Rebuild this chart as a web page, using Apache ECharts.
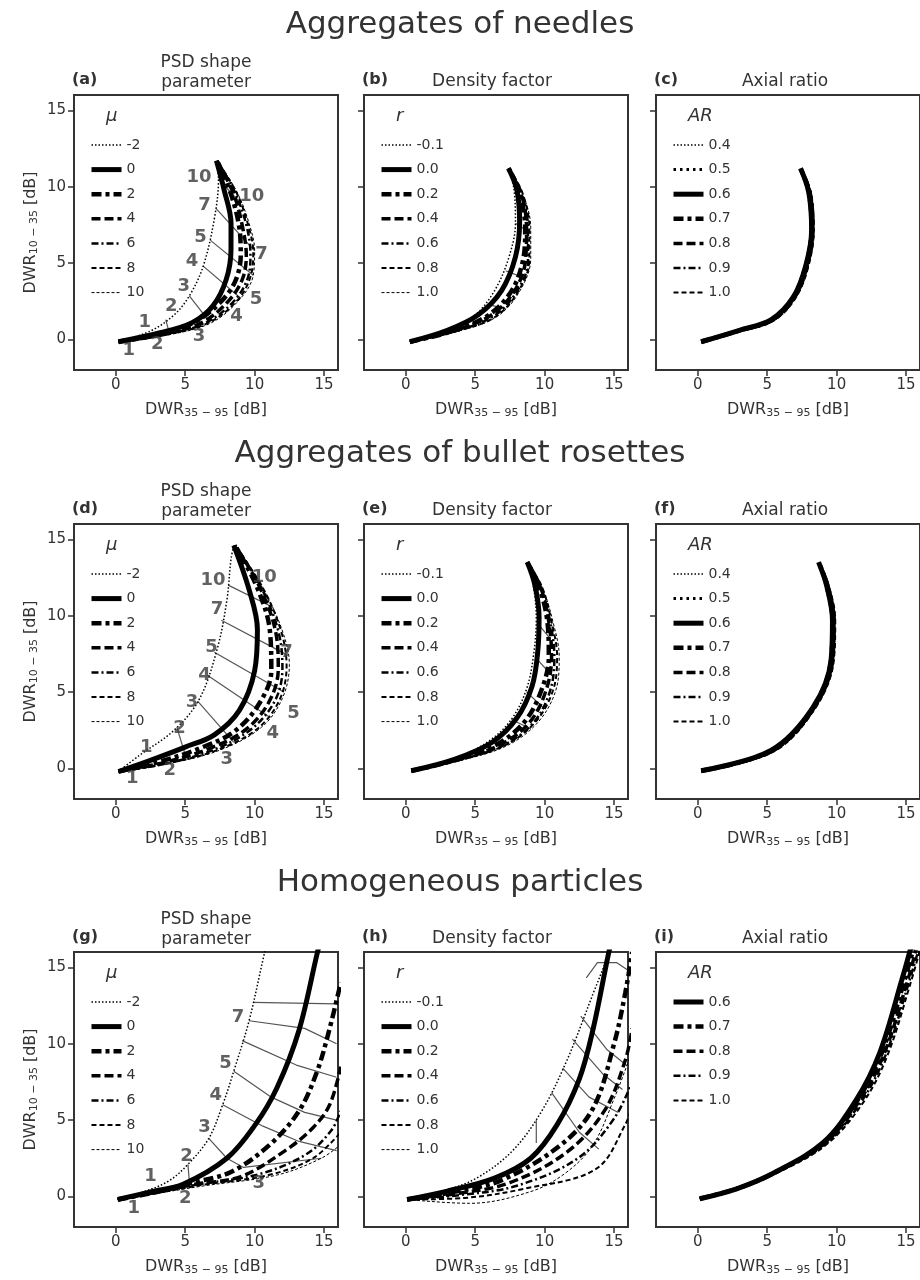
<!DOCTYPE html>
<html>
<head>
<meta charset="utf-8">
<script src="https://cdn.jsdelivr.net/npm/echarts@6/dist/echarts.min.js"></script>
<style>html,body{margin:0;background:#fff}#main{width:920px;height:1280px}</style>
</head>
<body>
<div id="main"></div>
<script>
// ---- data ----
var muNames = ['-2', '0', '2', '4', '6', '8', '10'];
var rNames = ['-0.1', '0.0', '0.2', '0.4', '0.6', '0.8', '1.0'];
var arNames = ['0.4', '0.5', '0.6', '0.7', '0.8', '0.9', '1.0'];
var arNamesHomog = ['0.6', '0.7', '0.8', '0.9', '1.0'];

// (a) needles, PSD shape
var needlesMu = [
    [[0.2,-0.15],[2.5,0.55],[4.2,1.6],[5.3,2.85],[6.3,4.8],[7.1,7.9],[7.4,10.5],[7.25,11.7]],
    [[0.2,-0.15],[3.2,0.44],[5.5,1.1],[7.0,2.2],[7.95,3.9],[8.3,5.9],[8.3,7.6],[7.8,9.8],[7.25,11.7]],
    [[0.2,-0.15],[3.5,0.4],[5.8,1.2],[7.5,2.4],[8.6,3.8],[9.0,5.5],[8.9,7.3],[8.3,9.5],[7.3,11.7]],
    [[0.2,-0.15],[3.5,0.35],[6.2,1.1],[8.0,2.4],[9.1,3.9],[9.4,5.5],[9.1,7.5],[8.5,9.5],[7.3,11.7]],
    [[0.2,-0.15],[3.6,0.33],[6.5,1.1],[8.5,2.5],[9.5,4.0],[9.7,5.6],[9.4,7.5],[8.6,9.6],[7.3,11.7]],
    [[0.2,-0.15],[3.7,0.32],[6.7,1.1],[8.8,2.6],[9.7,4.1],[9.9,5.7],[9.5,7.6],[8.7,9.6],[7.3,11.7]],
    [[0.2,-0.15],[3.8,0.3],[6.9,1.1],[9.0,2.7],[9.9,4.2],[10.0,5.8],[9.6,7.6],[8.7,9.7],[7.3,11.7]]
];
var needlesLinks = [
    [[3.6,1.3],[3.9,0.3]], [[5.3,2.85],[6.8,1.1]], [[6.3,4.8],[9.0,2.7]], [[6.8,6.5],[9.9,4.2]],
    [[7.2,8.6],[10.0,5.8]], [[7.4,10.5],[9.0,8.9]]
];
var needlesTags = [
    [2.1,1.1,'1'],[4.0,2.2,'2'],[4.9,3.5,'3'],[5.5,5.1,'4'],[6.1,6.7,'5'],[6.4,8.8,'7'],[6.0,10.6,'10'],
    [0.95,-0.7,'1'],[3.0,-0.3,'2'],[6.0,0.2,'3'],[8.7,1.5,'4'],[10.1,2.6,'5'],[10.5,5.6,'7'],[9.8,9.4,'10']
];
// (b) needles, density factor
var needlesR = [
    [[0.3,-0.15],[3.0,0.6],[5.0,1.6],[6.4,3.2],[7.4,5.3],[7.9,7.6],[7.8,9.8],[7.4,11.2]],
    [[0.3,-0.15],[3.0,0.6],[5.2,1.6],[6.9,3.2],[7.9,5.4],[8.2,7.7],[8.0,9.8],[7.4,11.2]],
    [[0.3,-0.15],[3.2,0.5],[5.8,1.5],[7.5,3.0],[8.4,5.0],[8.6,7.2],[8.2,9.6],[7.4,11.2]],
    [[0.3,-0.15],[3.2,0.5],[6.0,1.5],[7.7,3.0],[8.6,5.0],[8.7,7.2],[8.3,9.6],[7.4,11.2]],
    [[0.3,-0.15],[3.3,0.48],[6.2,1.45],[7.9,3.0],[8.8,5.1],[8.8,7.3],[8.3,9.6],[7.4,11.2]],
    [[0.3,-0.15],[3.3,0.46],[6.3,1.4],[8.0,3.0],[8.9,5.2],[8.9,7.3],[8.4,9.6],[7.4,11.2]],
    [[0.3,-0.15],[3.4,0.45],[6.4,1.4],[8.1,3.0],[9.0,5.3],[9.0,7.3],[8.4,9.6],[7.4,11.2]]
];
// (c) needles, axial ratio
var needlesAR = [
    [[0.25,-0.15],[3.0,0.6],[5.3,1.35],[6.8,2.8],[7.7,4.9],[8.1,7.2],[7.9,9.6],[7.4,11.2]],
    [[0.25,-0.15],[3.0,0.6],[5.3,1.3],[6.85,2.8],[7.75,4.9],[8.15,7.2],[7.95,9.6],[7.4,11.2]],
    [[0.25,-0.15],[3.0,0.6],[5.3,1.3],[6.9,2.8],[7.8,4.9],[8.2,7.2],[8.0,9.6],[7.4,11.2]],
    [[0.25,-0.15],[3.0,0.58],[5.35,1.28],[6.95,2.8],[7.85,4.9],[8.25,7.2],[8.05,9.6],[7.4,11.2]],
    [[0.25,-0.15],[3.0,0.57],[5.4,1.27],[7.0,2.8],[7.9,4.9],[8.3,7.2],[8.1,9.6],[7.45,11.1]],
    [[0.25,-0.15],[3.05,0.56],[5.45,1.26],[7.05,2.8],[7.95,4.9],[8.3,7.2],[8.1,9.6],[7.45,11.1]],
    [[0.25,-0.15],[3.1,0.55],[5.5,1.25],[7.1,2.8],[8.0,4.9],[8.35,7.2],[8.15,9.6],[7.5,11.0]]
];
// (d) bullet rosettes, PSD shape
var bulletMu = [
    [[0.2,-0.2],[1.7,0.85],[4.2,2.5],[6.0,4.5],[7.3,7.8],[8.0,11.0],[8.3,13.7],[8.5,14.6]],
    [[0.2,-0.2],[2.4,0.5],[5.0,1.4],[7.1,2.2],[8.9,3.8],[10.0,6.4],[10.2,9.1],[9.6,11.7],[8.5,14.6]],
    [[0.2,-0.2],[3.0,0.4],[6.0,1.3],[8.5,2.4],[10.3,4.2],[11.2,6.4],[11.1,9.0],[10.2,11.8],[8.6,14.6]],
    [[0.2,-0.2],[3.3,0.35],[6.6,1.25],[9.3,2.5],[11.0,4.3],[11.7,6.5],[11.5,9.0],[10.4,11.8],[8.6,14.6]],
    [[0.2,-0.2],[3.5,0.3],[7.0,1.2],[9.8,2.6],[11.5,4.5],[12.0,6.6],[11.7,9.0],[10.5,11.8],[8.6,14.6]],
    [[0.2,-0.2],[3.6,0.3],[7.3,1.2],[10.2,2.6],[11.8,4.5],[12.3,6.7],[11.9,9.0],[10.6,11.8],[8.6,14.6]],
    [[0.2,-0.2],[3.7,0.3],[7.5,1.2],[10.5,2.7],[12.0,4.6],[12.5,6.8],[12.0,9.0],[10.7,11.6],[8.6,14.6]]
];
var bulletLinks = [
    [[4.4,2.7],[5.0,0.9]], [[5.9,4.4],[8.5,1.7]], [[6.6,6.1],[11.0,3.4]], [[7.1,7.6],[12.1,5.0]],
    [[7.6,9.7],[12.4,7.4]], [[8.1,12.0],[11.2,10.6]]
];
var bulletTags = [
    [2.2,1.4,'1'],[4.6,2.6,'2'],[5.5,4.3,'3'],[6.4,6.1,'4'],[6.9,7.9,'5'],[7.3,10.4,'7'],[7.0,12.3,'10'],
    [1.2,-0.65,'1'],[3.9,-0.1,'2'],[8.0,0.6,'3'],[11.3,2.3,'4'],[12.8,3.6,'5'],[12.3,7.6,'7'],[10.7,12.5,'10']
];
// (e) bullet rosettes, density factor
var bulletR = [
    [[0.4,-0.15],[3.5,0.6],[6.0,1.8],[7.6,3.2],[8.7,5.2],[9.2,7.4],[9.4,9.8],[9.2,11.9],[8.75,13.5]],
    [[0.4,-0.15],[3.5,0.6],[6.2,1.7],[8.0,3.3],[9.1,5.4],[9.5,7.6],[9.6,9.9],[9.3,12.0],[8.75,13.5]],
    [[0.4,-0.15],[3.6,0.55],[6.6,1.6],[8.6,3.1],[9.8,5.2],[10.3,7.3],[10.2,9.6],[9.6,11.9],[8.75,13.5]],
    [[0.4,-0.15],[3.6,0.55],[6.8,1.55],[8.9,3.0],[10.1,5.1],[10.5,7.3],[10.3,9.6],[9.7,11.9],[8.75,13.5]],
    [[0.4,-0.15],[3.7,0.52],[7.0,1.5],[9.2,3.0],[10.4,5.1],[10.7,7.3],[10.4,9.6],[9.7,11.9],[8.75,13.5]],
    [[0.4,-0.15],[3.7,0.5],[7.1,1.5],[9.3,3.0],[10.6,5.1],[10.9,7.3],[10.5,9.6],[9.8,11.9],[8.75,13.5]],
    [[0.4,-0.15],[3.8,0.5],[7.2,1.45],[9.5,3.0],[10.8,5.1],[11.05,7.3],[10.6,9.6],[9.8,11.9],[8.75,13.5]]
];
// (f) bullet rosettes, axial ratio
var bulletAR = [
    [[0.25,-0.15],[5.3,1.25],[8.2,4.0],[9.5,7.1],[9.6,9.7],[9.2,11.9],[8.7,13.5]],
    [[0.25,-0.15],[5.3,1.22],[8.25,4.0],[9.55,7.1],[9.65,9.7],[9.25,11.9],[8.7,13.5]],
    [[0.25,-0.15],[5.3,1.2],[8.3,4.0],[9.6,7.1],[9.7,9.7],[9.3,11.9],[8.7,13.5]],
    [[0.25,-0.15],[5.35,1.18],[8.35,4.0],[9.65,7.1],[9.75,9.7],[9.35,11.9],[8.75,13.4]],
    [[0.25,-0.15],[5.4,1.16],[8.4,4.0],[9.7,7.1],[9.8,9.7],[9.4,11.9],[8.75,13.4]],
    [[0.25,-0.15],[5.45,1.14],[8.45,4.0],[9.75,7.1],[9.85,9.7],[9.4,11.9],[8.8,13.3]],
    [[0.25,-0.15],[5.5,1.12],[8.5,4.0],[9.8,7.1],[9.9,9.7],[9.45,11.9],[8.8,13.3]]
];
// (g) homogeneous, PSD shape
var homogMu = [
    [[0.15,-0.2],[2.0,0.3],[3.8,1.0],[5.2,2.1],[6.7,3.8],[7.7,6.0],[8.5,8.2],[9.6,11.5],[10.7,15.9],[11.0,17]],
    [[0.15,-0.2],[2.5,0.3],[4.85,0.8],[8.0,2.5],[10.05,4.7],[11.6,7.1],[13.2,10.9],[14.5,15.9],[14.8,17]],
    [[0.15,-0.2],[3.0,0.3],[5.5,0.9],[8.3,1.6],[11.1,3.4],[13.2,5.6],[14.5,8.2],[15.4,11.0],[16.2,14]],
    [[0.15,-0.2],[3.0,0.3],[5.7,0.8],[9.0,1.3],[12.2,3.0],[14.2,4.5],[15.4,6.0],[16.2,8.5]],
    [[0.15,-0.2],[3.1,0.28],[6.0,0.8],[10.3,1.45],[13.7,2.75],[15.5,4.3],[16.2,5.6]],
    [[0.15,-0.2],[3.2,0.26],[6.2,0.75],[11.0,1.4],[14.2,2.5],[16.2,4.2]],
    [[0.15,-0.2],[3.3,0.25],[6.4,0.7],[11.6,1.4],[14.8,2.5],[16.2,3.4]]
];
var homogLinks = [
    [[5.2,2.1],[5.3,1.0]], [[6.7,3.8],[8.0,2.5],[9.2,1.9],[14.8,2.5]], [[7.7,6.0],[10.6,4.6],[13.2,3.6],[15.9,3.0]],
    [[8.5,8.2],[11.2,6.5],[13.6,5.5],[15.9,5.0]], [[9.1,10.2],[13.0,8.6],[15.9,7.8]],
    [[9.6,11.5],[13.6,11.0],[15.9,10.0]], [[9.9,12.7],[15.9,12.6]]
];
var homogTags = [
    [2.5,1.3,'1'],[5.1,2.6,'2'],[6.4,4.5,'3'],[7.2,6.6,'4'],[7.9,8.7,'5'],[8.8,11.7,'7'],
    [1.3,-0.8,'1'],[5.0,-0.1,'2'],[10.3,0.85,'3']
];
// (h) homogeneous, density factor
var homogR = [
    [[0.1,-0.2],[2.5,0.3],[5.1,1.2],[7.7,3.0],[9.8,5.6],[11.6,8.9],[13.5,13.3],[14.6,15.9],[14.9,17]],
    [[0.1,-0.2],[3.0,0.35],[6.4,1.2],[9.0,2.5],[10.9,4.7],[12.5,7.7],[13.5,11.0],[14.6,15.9],[14.9,17]],
    [[0.1,-0.2],[3.5,0.3],[7.0,1.1],[11.2,3.4],[13.5,5.8],[15.0,10.0],[15.8,13.3],[16.3,16]],
    [[0.1,-0.2],[3.8,0.2],[7.5,0.9],[11.6,2.9],[14.3,5.6],[15.8,8.9],[16.3,11]],
    [[0.1,-0.2],[4.0,0.1],[8.0,0.7],[12.4,2.5],[15.0,5.1],[16.3,7.5]],
    [[0.1,-0.2],[4.2,-0.1],[8.5,0.5],[13.7,1.8],[15.8,4.7],[16.3,6]],
    [[0.1,-0.2],[4.6,-0.45],[9.1,0.35],[11.6,1.6],[13.5,3.4],[15.0,6.4],[16.3,9.5]]
];
var homogRLinks = [
    [[9.4,5.0],[9.4,3.5]], [[10.5,6.8],[12.5,4.2],[13.9,3.1]], [[11.3,8.4],[13.2,6.5],[15.3,5.5]],
    [[12.0,10.3],[14.2,8.0],[15.6,7.0]], [[12.6,11.8],[14.5,9.6],[16,8.5]], [[13.0,14.3],[13.8,15.3],[15.2,15.3],[16,14.8]]
];
// (i) homogeneous, axial ratio
var homogAR = [
    [[0.15,-0.15],[2.8,0.5],[5.4,1.5],[9.0,3.5],[11.4,6.3],[13.1,9.4],[14.7,14.2],[15.5,16.8]],
    [[0.15,-0.15],[2.8,0.5],[5.4,1.5],[9.05,3.5],[11.5,6.3],[13.25,9.4],[14.9,14.2],[15.7,16.8]],
    [[0.15,-0.15],[2.8,0.5],[5.4,1.5],[9.1,3.45],[11.6,6.2],[13.4,9.3],[15.1,14.1],[15.9,16.8]],
    [[0.15,-0.15],[2.8,0.5],[5.45,1.48],[9.15,3.4],[11.7,6.1],[13.5,9.2],[15.2,14.0],[16.1,16.8]],
    [[0.15,-0.15],[2.8,0.5],[5.5,1.45],[9.2,3.35],[11.8,6.0],[13.6,9.1],[15.3,13.9],[16.2,16.8]]
];

// ---- styles ----
var dashStyles = [
    {width: 1.5, type: [1.5, 2]},
    {width: 5, type: 'solid'},
    {width: 4.5, type: [10, 4, 4, 4]},
    {width: 3.5, type: [9, 4]},
    {width: 2.5, type: [7, 3, 2, 3]},
    {width: 2, type: [5, 3]},
    {width: 1, type: [3, 2]}
];
var arStyles = [
    {width: 1.5, type: [1.5, 2]},
    {width: 3, type: [2.5, 4]},
    {width: 5, type: 'solid'},
    {width: 4.5, type: [10, 4, 4, 4]},
    {width: 3.5, type: [9, 4]},
    {width: 2.5, type: [7, 3, 2, 3]},
    {width: 2, type: [5, 3]}
];

var cols = [74, 364, 656];
var rows = [95, 524, 952];
var W = 264, H = 275;
var ink = '#333';

var grids = [], xAxes = [], yAxes = [], series = [], legends = [], graphics = [];

function sub(a) {
    return '{m|DWR}{s|' + a + '}{m| [dB]}';
}
var nameRich = {
    m: {fontSize: 16, color: ink, fontFamily: 'DejaVu Sans'},
    s: {fontSize: 11, color: ink, fontFamily: 'DejaVu Sans', padding: [8, 0, 0, 0]}
};

for (var r = 0; r < 3; r++) {
    for (var c = 0; c < 3; c++) {
        var gi = r * 3 + c;
        grids.push({left: cols[c], top: rows[r], width: W, height: H, show: true, borderColor: ink, borderWidth: 2, backgroundColor: '#fff'});
        xAxes.push({
            gridIndex: gi, type: 'value', min: -3, max: 16,
            axisLine: {show: false, onZero: false}, splitLine: {show: false},
            axisTick: {show: true, length: 6, lineStyle: {color: ink, width: 1.5}, customValues: [0, 5, 10, 15]},
            axisLabel: {fontSize: 15, color: ink, margin: 8, customValues: [0, 5, 10, 15], fontFamily: 'DejaVu Sans'},
            name: sub('35 − 95'), nameLocation: 'middle', nameGap: 30,
            nameTextStyle: {rich: nameRich}
        });
        yAxes.push({
            gridIndex: gi, type: 'value', min: -2, max: 16,
            axisLine: {show: false, onZero: false}, splitLine: {show: false},
            axisTick: {show: true, length: 6, lineStyle: {color: ink, width: 1.5}, customValues: [0, 5, 10, 15]},
            axisLabel: {show: c === 0, fontSize: 15, color: ink, margin: 8, customValues: [0, 5, 10, 15], fontFamily: 'DejaVu Sans'},
            name: c === 0 ? sub('10 − 35') : '', nameLocation: 'middle', nameGap: 34,
            nameTextStyle: {rich: nameRich}
        });
    }
}

function addCurves(gi, curves, names, prefix, styles, offset) {
    curves.forEach(function (pts, i) {
        var st = styles[i + (offset || 0)];
        series.push({
            name: prefix + names[i], type: 'line', xAxisIndex: gi, yAxisIndex: gi,
            data: pts, smooth: 0.35, symbol: 'none', showSymbol: false, clip: true,
            lineStyle: {color: '#000', width: st.width, type: st.type, cap: 'butt'},
            z: 3 + (6 - i) * 0.1, silent: true
        });
    });
}
function addLinks(gi, links) {
    links.forEach(function (pts) {
        series.push({
            type: 'line', xAxisIndex: gi, yAxisIndex: gi, data: pts, symbol: 'none', clip: true,
            lineStyle: {color: '#555', width: 1.2}, z: 2, silent: true
        });
    });
}
function addTags(gi, tags) {
    series.push({
        type: 'scatter', xAxisIndex: gi, yAxisIndex: gi, data: tags, symbolSize: 0, z: 5, silent: true,
        label: {show: true, position: 'inside', formatter: function (p) { return p.value[2]; },
            fontSize: 18, fontWeight: 'bold', color: '#3a3a3a', fontFamily: 'DejaVu Sans'}
    });
}
function addLegend(gi, names, prefix, title, styles, offset) {
    var c = gi % 3, r = Math.floor(gi / 3);
    legends.push({
        data: names.map(function (n, i) {
            var st = styles[i + (offset || 0)];
            return {name: prefix + n, itemStyle: {opacity: 0},
                lineStyle: {color: '#000', width: st.width, type: st.type, cap: 'butt'}};
        }),
        orient: 'vertical', left: cols[c] + 10, top: rows[r] + 38,
        itemWidth: 30, itemHeight: 10, itemGap: 10.6,
        selectedMode: false,
        formatter: function (n) { return n.split('|')[1]; },
        textStyle: {fontSize: 14, color: ink, fontFamily: 'DejaVu Sans'}
    });
    graphics.push({type: 'text', left: cols[c] + 32, top: rows[r] + 12,
        style: {text: title, fill: ink, font: 'italic 18px DejaVu Sans'}});
}

// row 1
addCurves(0, needlesMu, muNames, 'mu|', dashStyles); addLinks(0, needlesLinks); addTags(0, needlesTags);
addCurves(1, needlesR, rNames, 'r|', dashStyles); addLinks(1, [[[7.9,7.6],[8.6,7.2]], [[7.2,4.5],[8.6,4.0]], [[5.9,2.3],[7.2,2.0]]]);
addCurves(2, needlesAR, arNames, 'ar|', arStyles);
// row 2
addCurves(3, bulletMu, muNames, 'mu|', dashStyles); addLinks(3, bulletLinks); addTags(3, bulletTags);
addCurves(4, bulletR, rNames, 'r|', dashStyles); addLinks(4, [[[9.5,9.5],[10.4,8.5]], [[9.4,7.2],[10.6,6.0]], [[8.7,5.0],[10.0,3.9]], [[7.6,3.2],[9.0,2.6]]]);
addCurves(5, bulletAR, arNames, 'ar|', arStyles);
// row 3
addCurves(6, homogMu, muNames, 'mu|', dashStyles); addLinks(6, homogLinks); addTags(6, homogTags);
addCurves(7, homogR, rNames, 'r|', dashStyles); addLinks(7, homogRLinks);
addCurves(8, homogAR, arNamesHomog, 'ar|', arStyles, 2);

for (var k = 0; k < 3; k++) {
    addLegend(k * 3, muNames, 'mu|', 'μ', dashStyles);
    addLegend(k * 3 + 1, rNames, 'r|', 'r', dashStyles);
    if (k === 2) addLegend(k * 3 + 2, arNamesHomog, 'ar|', 'AR', arStyles, 2);
    else addLegend(k * 3 + 2, arNames, 'ar|', 'AR', arStyles);
}

// titles
var rowTitles = ['Aggregates of needles', 'Aggregates of bullet rosettes', 'Homogeneous particles'];
var rowTitleY = [4, 433, 862];
var titles = [];
rowTitles.forEach(function (t, i) {
    titles.push({text: t, left: 'center', top: rowTitleY[i], textStyle: {fontSize: 31, fontWeight: 'normal', color: ink, fontFamily: 'DejaVu Sans'}});
});
var letters = [['(a)', '(b)', '(c)'], ['(d)', '(e)', '(f)'], ['(g)', '(h)', '(i)']];
for (var rr = 0; rr < 3; rr++) {
    for (var cc = 0; cc < 3; cc++) {
        graphics.push({type: 'text', left: cols[cc] - 2, top: rows[rr] - 23,
            style: {text: letters[rr][cc], font: 'bold 16px DejaVu Sans', fill: ink}});
    }
    graphics.push({type: 'text', x: 206, y: rows[rr] - 42,
        style: {text: 'PSD shape\nparameter', font: '17px DejaVu Sans', fill: ink, align: 'center', lineHeight: 20}});
    graphics.push({type: 'text', x: 492, y: rows[rr] - 22,
        style: {text: 'Density factor', font: '17px DejaVu Sans', fill: ink, align: 'center'}});
    graphics.push({type: 'text', x: 785, y: rows[rr] - 22,
        style: {text: 'Axial ratio', font: '17px DejaVu Sans', fill: ink, align: 'center'}});
}

var chart = echarts.init(document.getElementById('main'), null, {renderer: 'canvas'});
chart.setOption({
    backgroundColor: '#fff',
    animation: false,
    title: titles,
    grid: grids, xAxis: xAxes, yAxis: yAxes,
    legend: legends,
    series: series,
    graphic: graphics
});
</script>
</body>
</html>
